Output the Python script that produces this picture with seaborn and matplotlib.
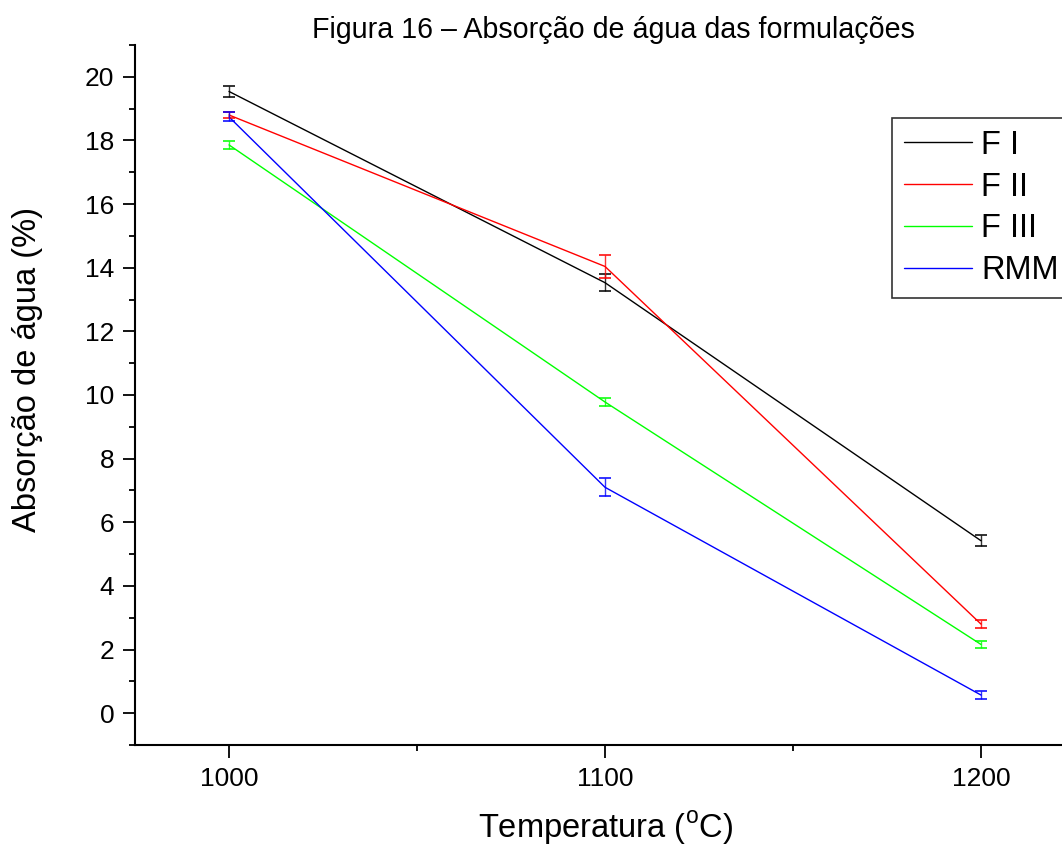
import numpy as np
import pandas as pd
import matplotlib
matplotlib.use("Agg")
import matplotlib.pyplot as plt
import seaborn as sns
from matplotlib.ticker import MultipleLocator

temperatures = [1000, 1100, 1200]
series_names = ["F I", "F II", "F III", "RMM"]
f1_values = [19.54, 13.53, 5.42]
f1_errors = [0.18, 0.26, 0.17]
f2_values = [18.80, 14.04, 2.80]
f2_errors = [0.10, 0.35, 0.12]
f3_values = [17.86, 9.78, 2.16]
f3_errors = [0.13, 0.14, 0.12]
rmm_values = [18.74, 7.10, 0.57]
rmm_errors = [0.14, 0.28, 0.13]
colors = ["#000000", "#FF0000", "#00FF00", "#0000FF"]

sns.set_theme(style="ticks")
plt.rcParams["font.family"] = ["Liberation Sans", "DejaVu Sans"]
plt.rcParams["mathtext.fontset"] = "custom"
plt.rcParams["mathtext.rm"] = "Liberation Sans"
for key in ["text.color", "axes.labelcolor", "xtick.color", "ytick.color",
            "xtick.labelcolor", "ytick.labelcolor"]:
    plt.rcParams[key] = "black"

values = [f1_values, f2_values, f3_values, rmm_values]
errors = [f1_errors, f2_errors, f3_errors, rmm_errors]
rows = []
for name, vals in zip(series_names, values):
    for t, v in zip(temperatures, vals):
        rows.append({"Temperatura": t, "Absorcao": v, "Serie": name})
df = pd.DataFrame(rows)

fig = plt.figure(figsize=(10.62, 8.52), dpi=100)
ax = fig.add_axes([135 / 1062, 107 / 852, 940 / 1062, 700 / 852])

sns.lineplot(data=df, x="Temperatura", y="Absorcao", hue="Serie",
             hue_order=series_names, palette=colors, linewidth=1.0, ax=ax,
             errorbar=None)
for name, vals, errs, c in zip(series_names, values, errors, colors):
    ax.errorbar(temperatures, vals, yerr=errs, fmt="none", ecolor=c,
                elinewidth=1.0, capsize=4.3, capthick=1.4, alpha=0.8)

ax.set_xlim(975, 1225)
ax.set_ylim(-1, 21)
ax.xaxis.set_major_locator(MultipleLocator(100))
ax.xaxis.set_minor_locator(MultipleLocator(50))
ax.yaxis.set_major_locator(MultipleLocator(2))
ax.yaxis.set_minor_locator(MultipleLocator(1))
ax.tick_params(which="major", direction="out", length=9, width=1.3,
               labelsize=19, pad=7, colors="black")
ax.tick_params(axis="y", which="major", pad=6)
ax.tick_params(which="minor", direction="out", length=4.5, width=1.3, colors="black")
for s in ["top", "right"]:
    ax.spines[s].set_visible(False)
for s in ["left", "bottom"]:
    ax.spines[s].set_linewidth(1.5)
    ax.spines[s].set_color("black")

ax.set_xlabel(r"Temperatura ($^{\mathrm{o}}$C)", fontsize=23.5, color="black")
ax.set_ylabel("Absorção de água (%)", fontsize=23.5, color="black")
ax.xaxis.set_label_coords((606 - 135) / 940, -(828 - 745) / 700)
ax.yaxis.set_label_coords(-(135 - 28) / 940, (745 - 370) / 700)
ax.xaxis.label.set_va("center")
ax.yaxis.label.set_va("center")

fig.text(613 / 1062, 1 - 30 / 852, "Figura 16 – Absorção de água das formulações",
         ha="center", va="center", fontsize=20.6, color="black")

handles, labels = ax.get_legend_handles_labels()
leg = ax.legend(handles, labels, loc="upper left", bbox_to_anchor=(0.8055, 0.8957),
                borderaxespad=0, fancybox=False, frameon=True, edgecolor="black",
                fontsize=23.5, handlelength=2.1, handleheight=0.7, labelspacing=0.33,
                handletextpad=0.26, borderpad=0.36)
leg.get_frame().set_linewidth(1.2)
for line in leg.get_lines():
    line.set_linewidth(1.0)
for t in leg.get_texts():
    t.set_color("black")

fig.savefig("out.png", dpi=100)
